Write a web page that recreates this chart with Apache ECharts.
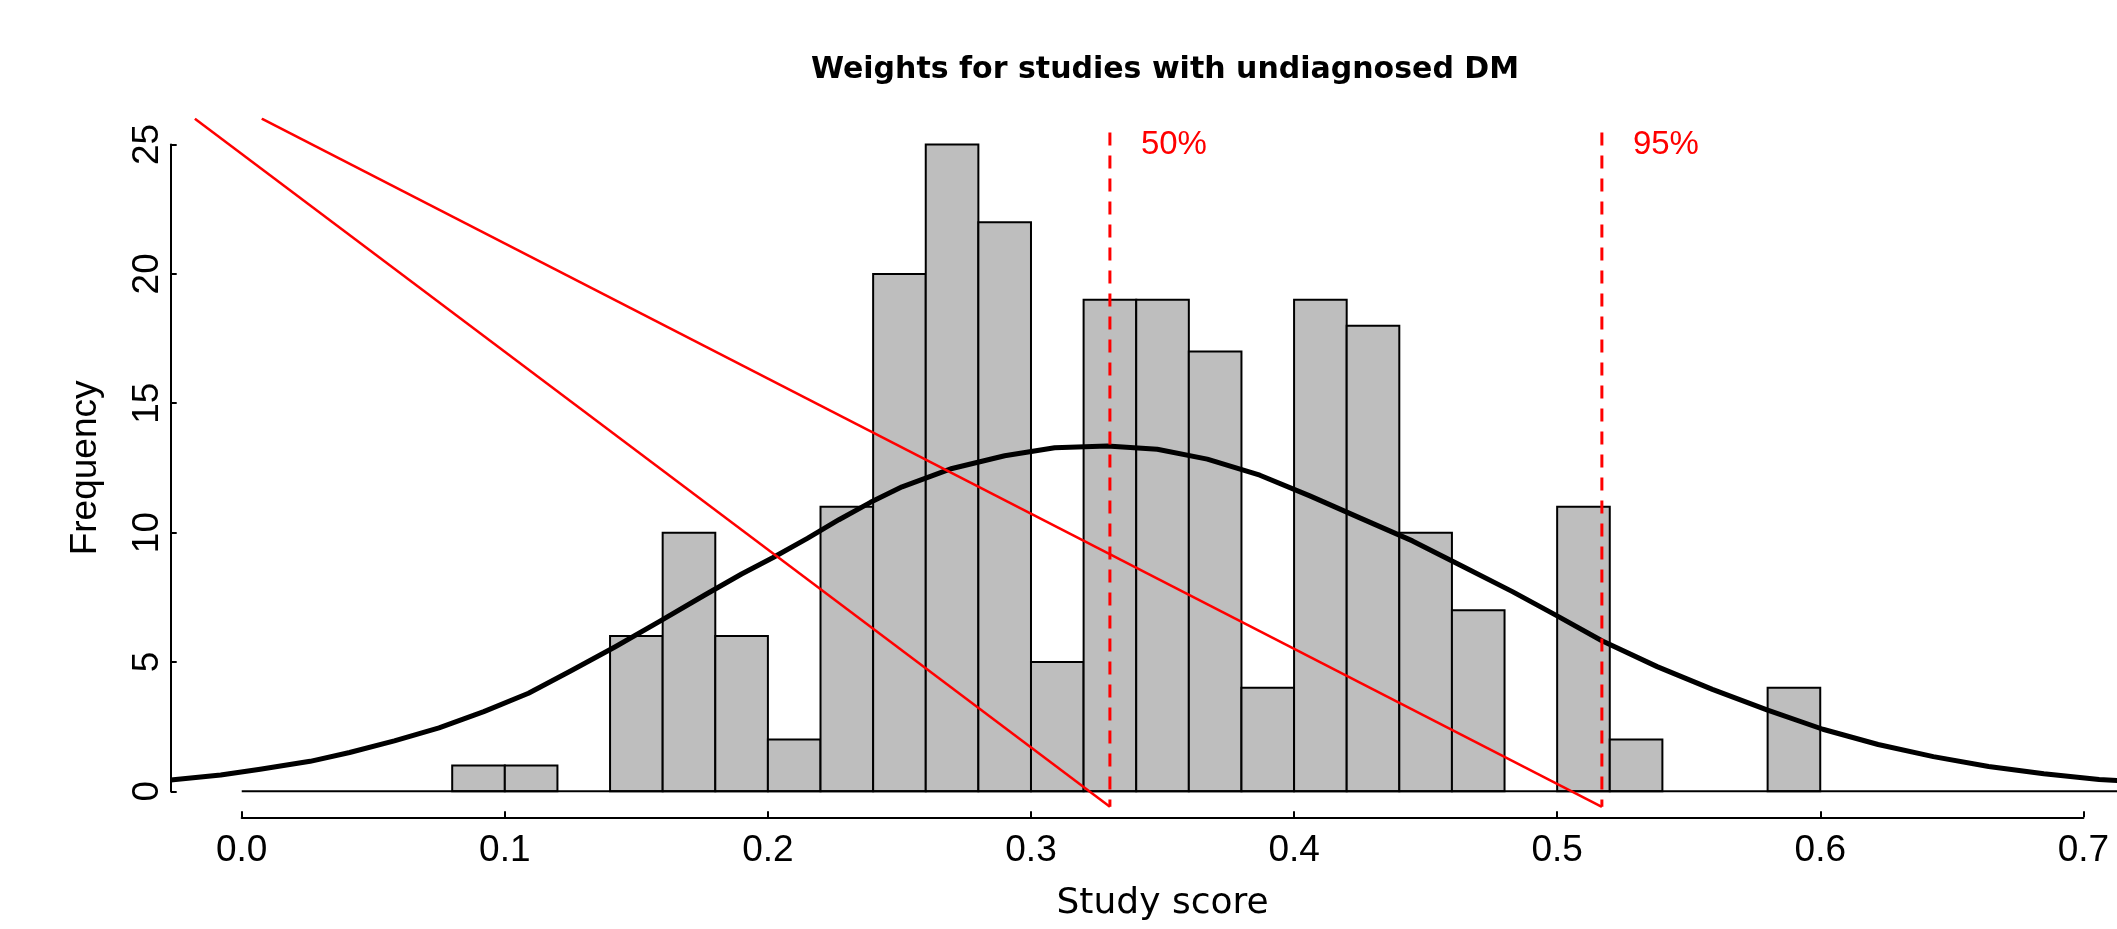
<!DOCTYPE html>
<html><head><meta charset="utf-8">
<script src="https://cdn.jsdelivr.net/npm/echarts@6/dist/echarts.min.js"></script>
<style>html,body{margin:0;padding:0;background:#fff}#c{width:2117px;height:929px}</style>
</head><body><div id="c"></div>
<script>
// Histogram bins (left edges) and frequencies
const binStarts = [0.08,0.10,0.14,0.16,0.18,0.20,0.22,0.24,0.26,0.28,0.30,0.32,0.34,0.36,0.38,0.40,0.42,0.44,0.46,0.50,0.52,0.58];
const binCounts = [1,1,6,10,6,2,11,20,25,22,5,19,19,17,4,19,18,10,7,11,2,4];
const binWidth = 0.02;

// Density curve
const curveX = [-0.027,-0.008,0.007,0.026,0.041,0.058,0.075,0.092,0.109,0.125,0.142,0.159,0.176,0.190,0.202,0.215,0.227,0.239,0.251,0.270,0.290,0.309,0.329,0.348,0.367,0.387,0.406,0.425,0.445,0.464,0.483,0.500,0.517,0.538,0.559,0.580,0.601,0.622,0.643,0.664,0.685,0.706,0.713];
const curveY = [0.44,0.63,0.85,1.16,1.50,1.95,2.45,3.08,3.79,4.65,5.59,6.58,7.59,8.40,9.04,9.78,10.50,11.17,11.77,12.48,12.97,13.28,13.35,13.22,12.84,12.22,11.42,10.57,9.68,8.70,7.72,6.78,5.82,4.82,3.94,3.14,2.40,1.81,1.34,0.96,0.68,0.46,0.42];

// Quantile markers
const quantileX = [0.330, 0.517];
const quantileLabels = ['50%', '95%'];
const quantileTopY = 25.47;
const quantileBottomY = -0.6;

// Red diagonal lines
const diagStartX = [-0.0178, 0.0076];
const diagStartY = [26.0, 26.0];
const diagEndX = [0.330, 0.517];
const diagEndY = [-0.6, -0.6];

// Axis ticks
const xTickValues = [0,0.1,0.2,0.3,0.4,0.5,0.6,0.7];
const xTickLabels = ['0.0','0.1','0.2','0.3','0.4','0.5','0.6','0.7'];
const yTickValues = [0,5,10,15,20,25];
const yTickLabels = ['0','5','10','15','20','25'];

const chart = echarts.init(document.getElementById('c'), null, {renderer:'canvas'});

const barData = binStarts.map((s,i)=>[s, s+binWidth, binCounts[i]]);
const curveData = curveX.map((x,i)=>[x, curveY[i]]);
const dashedSeries = quantileX.map(x=>({
  type:'line', xAxisIndex:0, yAxisIndex:0, data:[[x, quantileTopY],[x, quantileBottomY]],
  symbol:'none', lineStyle:{color:'#ff0000', width:3, type:[13,10]}, z:5, silent:true
}));
const diagSeries = diagStartX.map((x,i)=>({
  type:'line', xAxisIndex:0, yAxisIndex:0, data:[[x, diagStartY[i]],[diagEndX[i], diagEndY[i]]],
  symbol:'none', lineStyle:{color:'#ff0000', width:2.5}, z:6, silent:true
}));

const FONT = 'Liberation Sans, Arial, sans-serif';

chart.setOption({
  animation:false,
  backgroundColor:'#ffffff',
  title:{
    text:'Weights for studies with undiagnosed DM',
    left:1160, top:50, textAlign:'center',
    textStyle:{fontFamily:'DejaVu Sans', fontWeight:'bold', fontSize:30, color:'#000'}
  },
  grid:[
    {left:170.7, top:118.7, width:1946.3, height:698.5, outerBoundsMode:'none', containLabel:false},
    {left:241.7, top:118.7, width:1841.7, height:698.6, outerBoundsMode:'none', containLabel:false},
    {left:170.7, top:144.5, width:10, height:646.8, outerBoundsMode:'none', containLabel:false}
  ],
  xAxis:[
    {gridIndex:0, type:'value', min:-0.027, max:0.7128, show:false},
    {gridIndex:1, type:'value', min:xTickValues[0], max:xTickValues[xTickValues.length-1], interval:0.1, position:'bottom',
      axisLine:{show:true, lineStyle:{color:'#000', width:2}},
      axisTick:{show:true, inside:true, length:6, lineStyle:{color:'#000', width:2}},
      axisLabel:{margin:15, fontSize:37, fontFamily:FONT, color:'#000',
        formatter:(v)=>{const i=xTickValues.findIndex(t=>Math.abs(t-v)<1e-6); return i>=0?xTickLabels[i]:'';}},
      splitLine:{show:false},
      name:'Study score', nameLocation:'middle', nameGap:68,
      nameTextStyle:{fontSize:36, fontFamily:'DejaVu Sans', color:'#000'}},
    {gridIndex:2, type:'value', min:0, max:1, show:false}
  ],
  yAxis:[
    {gridIndex:0, type:'value', min:-1, max:26, show:false},
    {gridIndex:1, type:'value', min:0, max:1, show:false},
    {gridIndex:2, type:'value', min:yTickValues[0], max:yTickValues[yTickValues.length-1], interval:5,
      axisLine:{show:true, lineStyle:{color:'#000', width:2}},
      axisTick:{show:true, inside:true, length:6, lineStyle:{color:'#000', width:2}},
      axisLabel:{rotate:90, margin:4, fontSize:37, fontFamily:FONT, color:'#000',
        formatter:(v)=>{const i=yTickValues.indexOf(v); return i>=0?yTickLabels[i]:'';}},
      splitLine:{show:false},
      name:'Frequency', nameLocation:'middle', nameRotate:90, nameGap:66,
      nameTextStyle:{fontSize:37, fontFamily:FONT, color:'#000'}}
  ],
  series:[
    {type:'custom', xAxisIndex:0, yAxisIndex:0, data:barData, encode:{x:[0,1], y:2}, z:2, silent:true,
      renderItem:(params, api)=>{
        const a = api.coord([api.value(0), api.value(2)]);
        const b = api.coord([api.value(1), 0]);
        return {type:'rect', shape:{x:a[0], y:a[1], width:b[0]-a[0], height:b[1]-a[1]},
          style:{fill:'#bebebe', stroke:'#000', lineWidth:2}};
      }},
    {type:'line', xAxisIndex:0, yAxisIndex:0, data:[[0,0],[0.7128,0]], symbol:'none',
      lineStyle:{color:'#000', width:2}, z:3, silent:true},
    {type:'line', xAxisIndex:0, yAxisIndex:0, data:curveData, symbol:'none', smooth:false,
      lineStyle:{color:'#000', width:5, join:'round'}, z:4, silent:true},
    ...dashedSeries,
    ...diagSeries,
    {type:'custom', xAxisIndex:0, yAxisIndex:0, data:quantileX.map(x=>[x, quantileTopY]), encode:{x:0, y:1}, z:7, silent:true,
      renderItem:(params, api)=>{
        const p = api.coord([api.value(0), api.value(1)]);
        return {type:'text', x:p[0]+31, y:p[1]-4,
          style:{text:quantileLabels[params.dataIndex], fill:'#ff0000', fontSize:33, fontFamily:FONT, align:'left', verticalAlign:'top'}};
      }}
  ]
});
</script>
</body></html>
